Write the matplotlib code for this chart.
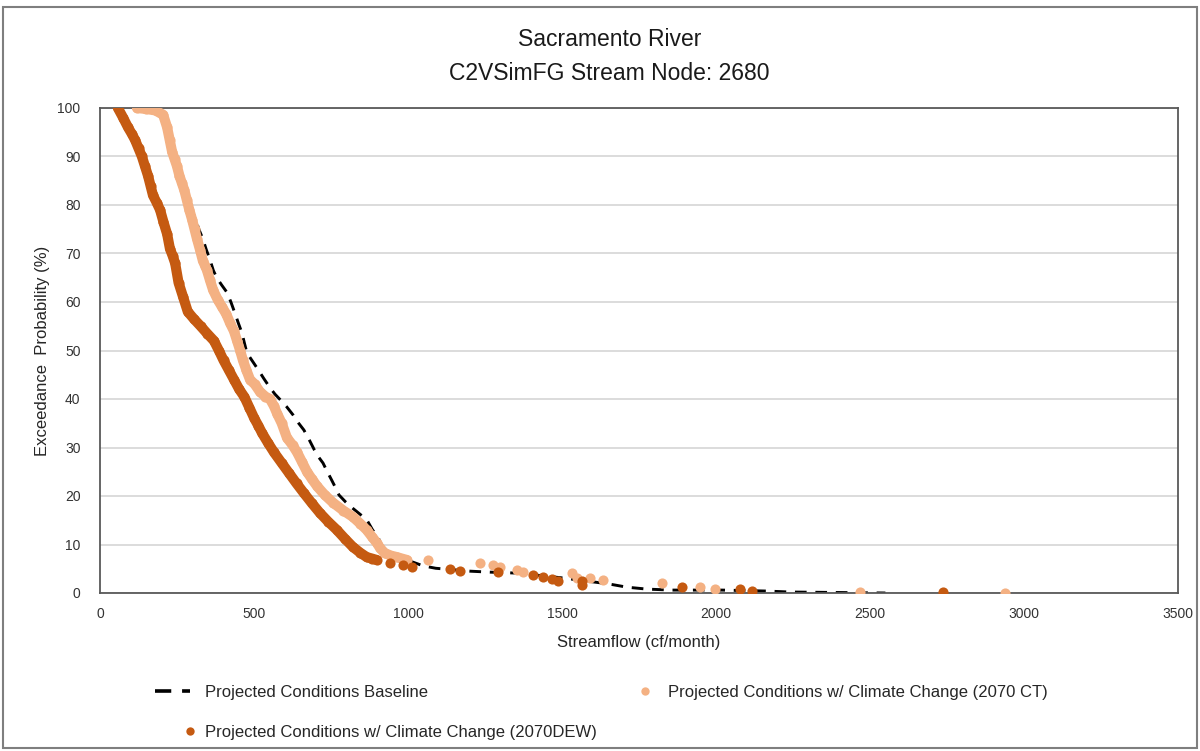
import matplotlib
matplotlib.use("Agg")
import matplotlib.pyplot as plt
from matplotlib.lines import Line2D
from matplotlib.patches import Rectangle

plt.rcParams['font.family'] = ['Liberation Sans', 'DejaVu Sans']

# ---------------- data ----------------
# Projected Conditions w/ Climate Change (2070 CT) - dense part of curve
ct_flow = [120, 150, 180, 205, 218, 226, 234, 242, 250, 258, 266, 274, 282, 290, 299,
           307, 315, 325, 334, 341, 347, 357, 367, 382, 396, 410, 422, 435, 445, 455,
           464, 475, 487, 503, 519, 537, 552, 565, 575, 590, 607, 625, 640, 656, 672,
           688, 705, 730, 757, 790, 821, 845, 866, 883, 899, 910, 925, 945, 964, 980, 997]
ct_prob = [100, 99.8, 99.5, 98.6, 96, 93.5, 91, 89.5, 88, 86, 84.5, 83, 81, 79, 77,
           75, 73, 70.7, 68.5, 67.5, 66.6, 64.5, 62.5, 60.5, 59, 57.5, 55.7, 54, 52, 50,
           48, 46, 44, 43, 41.5, 40.5, 40, 38.5, 37, 35, 32, 30.5, 29, 27, 25,
           23.5, 22, 20.2, 18.6, 17, 15.7, 14.3, 13, 11.6, 10.3, 9.2, 8.2, 7.7, 7.4, 7.1, 6.8]
# 2070 CT - isolated high-flow points
ct_tail_flow = [1065, 1234, 1276, 1299, 1354, 1373, 1532, 1549, 1591, 1633, 1825, 1948, 1997, 2468, 2938]
ct_tail_prob = [6.8, 6.2, 5.8, 5.4, 4.7, 4.3, 4.1, 3.1, 3.1, 2.7, 2.1, 1.2, 0.8, 0.3, 0.1]

# Projected Conditions w/ Climate Change (2070DEW) - dense part of curve
dew_flow = [58, 75, 91, 103, 114, 125, 136, 146, 156, 164, 172, 184, 195, 206, 218,
            227, 236, 244, 255, 270, 285, 305, 327, 348, 370, 386, 401, 418, 435, 452,
            469, 485, 501, 514, 526, 545, 565, 590, 614, 638, 662, 688, 714, 741, 769,
            795, 821, 845, 866, 883, 899]
dew_prob = [100, 98, 96, 94.7, 93.4, 91.7, 90, 88, 86, 84, 82, 80.5, 79, 76.5, 74,
            71, 69.5, 68, 64, 61, 58, 56.5, 55, 53.5, 52, 50, 48, 46, 44, 42,
            40.4, 38.2, 36, 34.5, 33, 31, 29, 26.8, 24.7, 22.6, 20.6, 18.5, 16.5, 14.7, 13,
            11.2, 9.5, 8.3, 7.4, 7.1, 6.8]
# 2070DEW - isolated high-flow points
dew_tail_flow = [942, 985, 1013, 1136, 1169, 1292, 1406, 1438, 1467, 1487, 1565, 1565, 1890, 2078, 2117, 2737]
dew_tail_prob = [6.2, 5.8, 5.4, 4.9, 4.6, 4.3, 3.7, 3.3, 2.9, 2.5, 2.5, 1.7, 1.2, 0.8, 0.5, 0.2]

# Projected Conditions Baseline
base_flow = [120, 205, 218, 234, 250, 266, 282, 296, 308, 321, 334, 345, 357, 368, 379,
             395, 412, 425, 438, 450, 461, 469, 477, 495, 514, 532, 550, 568, 586, 606,
             627, 645, 662, 680, 696, 710, 724, 738, 752, 764, 776, 797, 820, 845, 867,
             885, 903, 909, 920, 940, 965, 997, 1049, 1090, 1127, 1201, 1266, 1354, 1430,
             1503, 1575, 1649, 1711, 1776, 1857, 2019, 2165, 2240, 2400, 2550]
base_prob = [100, 98.6, 96, 91, 88, 84.5, 81, 79, 77.5, 75, 73, 70.8, 68.7, 66.5, 65,
             63.5, 62, 60, 57.7, 55.5, 53.6, 51.5, 49.5, 47.8, 46, 44.2, 42.5, 41, 39.8, 38.4,
             36.7, 35, 33.6, 31.5, 29.5, 28, 26.8, 25, 23.3, 21.8, 20.2, 18.8, 17.5, 16.2, 15,
             13, 11.5, 10.5, 9, 7.8, 7.2, 6.8, 5.6, 5.1, 4.9, 4.5, 4.3, 4.1, 3.6,
             3.1, 2.5, 1.9, 1.2, 0.8, 0.6, 0.6, 0.4, 0.2, 0.1, 0.0]

title_lines = ["Sacramento River", "C2VSimFG Stream Node: 2680"]
x_ticks = [0, 500, 1000, 1500, 2000, 2500, 3000, 3500]
y_ticks = [0, 10, 20, 30, 40, 50, 60, 70, 80, 90, 100]
lbl_base = "Projected Conditions Baseline"
lbl_ct = "Projected Conditions w/ Climate Change (2070 CT)"
lbl_dew = "Projected Conditions w/ Climate Change (2070DEW)"

c_ct = "#F4B183"
c_dew = "#C55A11"

# ---------------- figure ----------------
W, H = 1200, 751
fig = plt.figure(figsize=(W / 100, H / 100), dpi=100)
ax = fig.add_axes([100 / W, 1 - 593 / H, (1178 - 100) / W, (593 - 108) / H])

ax.plot(base_flow, base_prob, color="black", lw=2.1, linestyle=(0, (4, 3)), zorder=2)

ms = 7.3
ax.plot(ct_flow, ct_prob, color=c_ct, lw=ms, solid_capstyle="round",
        solid_joinstyle="round", marker="o", markersize=ms, markeredgewidth=0, zorder=3)
ax.plot(ct_tail_flow, ct_tail_prob, linestyle="none", color=c_ct, marker="o",
        markersize=ms, markeredgewidth=0, zorder=3)
ax.plot(dew_flow, dew_prob, color=c_dew, lw=ms, solid_capstyle="round",
        solid_joinstyle="round", marker="o", markersize=ms, markeredgewidth=0, zorder=4)
ax.plot(dew_tail_flow, dew_tail_prob, linestyle="none", color=c_dew, marker="o",
        markersize=ms, markeredgewidth=0, zorder=4)

ax.set_xlim(0, 3500)
ax.set_ylim(0, 100)
ax.set_xticks(x_ticks)
ax.set_yticks(y_ticks)
ax.tick_params(axis="both", length=0, labelsize=10, colors="#333333")
ax.tick_params(axis="x", pad=10)
ax.tick_params(axis="y", pad=14)
ax.grid(axis="y", color="#D9D9D9", lw=1.3)
ax.set_axisbelow(True)
for s in ax.spines.values():
    s.set_color("#595959")
    s.set_linewidth(1.3)

ax.set_xlabel("Streamflow (cf/month)", fontsize=12, color="#262626", labelpad=10)
ax.set_ylabel("Exceedance  Probability (%)", fontsize=12, color="#262626", labelpad=5)

fig.text(0.508, 1 - 40 / H, title_lines[0], ha="center", va="center", fontsize=16.5, color="#1a1a1a")
fig.text(0.508, 1 - 73 / H, title_lines[1], ha="center", va="center", fontsize=16.5, color="#1a1a1a")

# legend: three single-entry legends placed like the reference
fs = 12
px = fs * 100 / 72.0


def put_legend(handle, label, x_box, y_center, hl_px, pad_px):
    leg = fig.legend([handle], [label], loc="center left",
                     bbox_to_anchor=(x_box / W, 1 - y_center / H),
                     frameon=False, fontsize=fs, handlelength=hl_px / px,
                     handletextpad=pad_px / px, borderpad=0, borderaxespad=0,
                     labelcolor="#262626", numpoints=1)
    return leg


put_legend(Line2D([], [], color="black", lw=2.6, linestyle=(0, (4.5, 3))),
           lbl_base, 155, 692, 35, 15)
put_legend(Line2D([], [], color=c_dew, linestyle="none", marker="o", markersize=6, markeredgewidth=0),
           lbl_dew, 182, 732, 16, 7)
put_legend(Line2D([], [], color=c_ct, linestyle="none", marker="o", markersize=6, markeredgewidth=0),
           lbl_ct, 637, 692, 16, 15)

fig.patches.append(Rectangle((3 / W, 3 / H), 1194 / W, 741 / H, transform=fig.transFigure,
                             fill=False, edgecolor="#7f7f7f", lw=1.5))

fig.savefig("out.png", dpi=100)
